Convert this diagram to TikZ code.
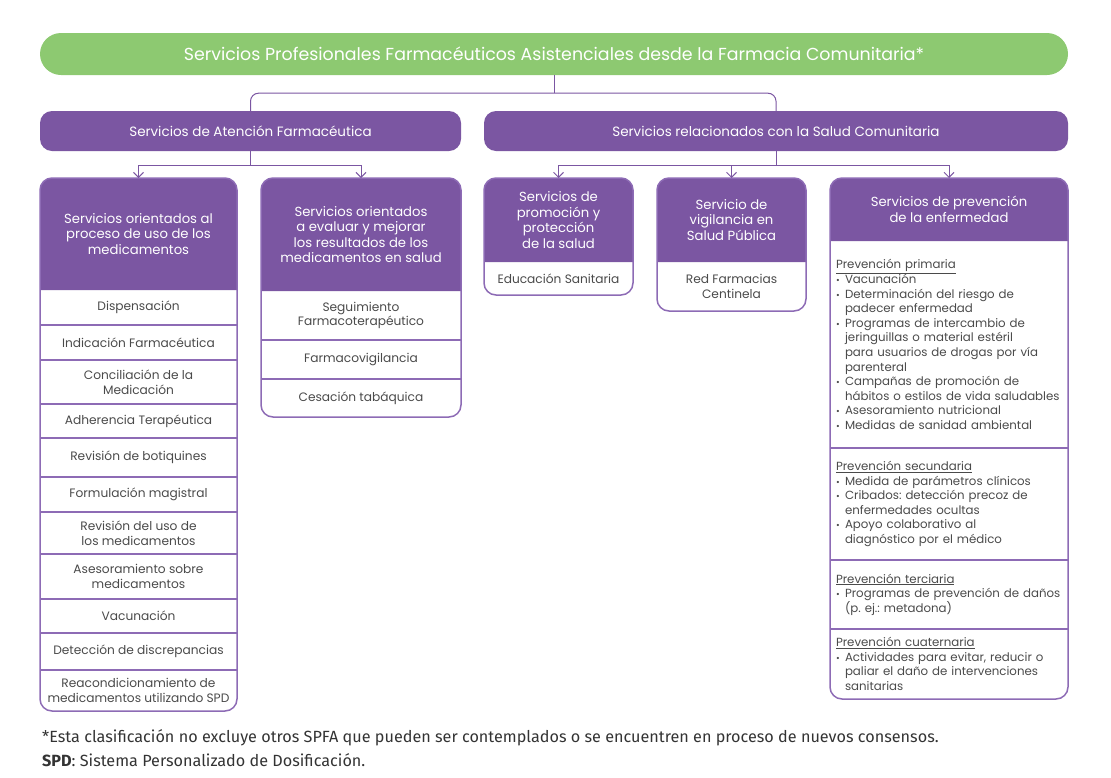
\documentclass[tikz,border=0pt]{standalone}
\usepackage{fontspec}
\setmainfont{Poppins}
\newfontfamily\notefont{Fira Sans}
\usetikzlibrary{arrows.meta,positioning,calc,backgrounds}
\definecolor{spgreen}{HTML}{8DC971}
\definecolor{sppurple}{HTML}{7B56A2}
\definecolor{spline}{HTML}{8D6BB5}
\definecolor{sptext}{HTML}{4A4A4A}
\newcommand\bul[1]{\par\hangindent=9pt\hangafter=1\noindent\makebox[9pt][l]{\small•}#1}
\tikzset{
  banner/.style={fill=spgreen,rounded corners=21pt,minimum width=1028pt,minimum height=42pt,text=white,font=\fontsize{17.4}{20}\selectfont},
  cat/.style={fill=sppurple,rounded corners=12pt,minimum height=40pt,text=white,font=\fontsize{13.5}{16}\selectfont},
  head/.style={text=white,align=center,inner sep=0pt,outer sep=0pt,font=\fontsize{13.2}{15.5}\selectfont},
  item/.style={text=sptext,align=center,inner sep=0pt,outer sep=0pt,font=\fontsize{12.2}{14.8}\selectfont},
  sect/.style={text=sptext,align=left,text width=226pt,inner xsep=6pt,inner ysep=0pt,outer sep=0pt,font=\fontsize{11.8}{14.6}\selectfont\frenchspacing},
  conn/.style={draw=sppurple,line width=1pt},
  frame/.style={draw=spline,line width=1.5pt,rounded corners=12pt},
  sep/.style={draw=spline,line width=1.2pt},
  note/.style={anchor=west,inner sep=0pt,text=black!80,font=\notefont\fontsize{16.2}{19}\selectfont}
}
\newcommand\headfill[1]{\fill[sppurple] (#1.south west) [rounded corners=12pt]-- (#1.north west) -- (#1.north east) [sharp corners]-- (#1.south east) -- cycle;}

\begin{document}
\begin{tikzpicture}[x=1pt,y=-1pt,>={Straight Barb[length=5pt,width=10pt]}]
\useasboundingbox (0,0) rectangle (1111,777);
% top levels
\node[banner] (spfa) at (554,54) {Servicios Profesionales Farmacéuticos Asistenciales desde la Farmacia Comunitaria*};
\node[cat,minimum width=421pt] (sac) at (250.5,131) {Servicios de Atención Farmacéutica};
\node[cat,minimum width=584pt] (src) at (776,131) {Servicios relacionados con la Salud Comunitaria};

% column headers
\node[head,minimum width=197pt,minimum height=112pt] (pa) at (138.5,234) {Servicios orientados al\\proceso de uso de los\\medicamentos};
\node[head,minimum width=200pt,minimum height=113pt] (pb) at (361,234.5) {Servicios orientados\\a evaluar y mejorar\\los resultados de los\\medicamentos en salud};
\node[head,minimum width=149pt,minimum height=84pt] (pc) at (558.5,220) {Servicios de\\promoción y\\protección\\de la salud};
\node[head,minimum width=149pt,minimum height=84pt] (pd) at (731.5,220) {Servicio de\\vigilancia en\\Salud Pública};
\node[head,minimum width=238pt,minimum height=63pt] (pe) at (949,209.5) {Servicios de prevención\\de la enfermedad};

% column A
\node[item,minimum width=197pt,minimum height=35pt,below=0pt of pa] (a1) {Dispensación};
\node[item,minimum width=197pt,minimum height=35pt,below=0pt of a1] (a2) {Indicación Farmacéutica};
\node[item,minimum width=197pt,minimum height=44pt,below=0pt of a2] (a3) {Conciliación de la\\Medicación};
\node[item,minimum width=197pt,minimum height=34pt,below=0pt of a3] (a4) {Adherencia Terapéutica};
\node[item,minimum width=197pt,minimum height=39pt,below=0pt of a4] (a5) {Revisión de botiquines};
\node[item,minimum width=197pt,minimum height=35pt,below=0pt of a5] (a6) {Formulación magistral};
\node[item,minimum width=197pt,minimum height=42pt,below=0pt of a6] (a7) {Revisión del uso de\\los medicamentos};
\node[item,minimum width=197pt,minimum height=45pt,below=0pt of a7] (a8) {Asesoramiento sobre\\medicamentos};
\node[item,minimum width=197pt,minimum height=34pt,below=0pt of a8] (a9) {Vacunación};
\node[item,minimum width=197pt,minimum height=37pt,below=0pt of a9] (a10) {Detección de discrepancias};
\node[item,minimum width=197pt,minimum height=41pt,below=0pt of a10] (a11) {Reacondicionamiento de\\medicamentos utilizando SPD};

% column B
\node[item,minimum width=200pt,minimum height=49pt,below=0pt of pb] (b1) {Seguimiento\\Farmacoterapéutico};
\node[item,minimum width=200pt,minimum height=39pt,below=0pt of b1] (b2) {Farmacovigilancia};
\node[item,minimum width=200pt,minimum height=38pt,below=0pt of b2] (b3) {Cesación tabáquica};

% columns C and D
\node[item,minimum width=149pt,minimum height=33pt,below=0pt of pc] (c1) {Educación Sanitaria};
\node[item,minimum width=149pt,minimum height=49pt,below=0pt of pd] (d1) {Red Farmacias\\Centinela};

% column E
\node[sect,minimum height=207pt,below=0pt of pe] (e1) {\underline{Prevención primaria}\bul{Vacunación}\bul{Determinación del riesgo de\newline padecer enfermedad}\bul{Programas de intercambio de\newline jeringuillas o material estéril\newline para usuarios de drogas por vía\newline parenteral}\bul{Campañas de promoción de\newline hábitos o estilos de vida saludables}\bul{Asesoramiento nutricional}\bul{Medidas de sanidad ambiental}\par};
\node[sect,minimum height=112pt,below=0pt of e1] (e2) {\underline{Prevención secundaria}\bul{Medida de parámetros clínicos}\bul{Cribados: detección precoz de\newline enfermedades ocultas}\bul{Apoyo colaborativo al\newline diagnóstico por el médico}\par};
\node[sect,minimum height=69pt,below=0pt of e2] (e3) {\underline{Prevención terciaria}\bul{Programas de prevención de daños\newline (p. ej.: metadona)}\par};
\node[sect,minimum height=70pt,below=0pt of e3] (e4) {\underline{Prevención cuaternaria}\bul{Actividades para evitar, reducir o\newline paliar el daño de intervenciones\newline sanitarias}\par};

\begin{scope}[on background layer]
\headfill{pa}\headfill{pb}\headfill{pc}\headfill{pd}\headfill{pe}
\end{scope}

% frames and separators
\draw[frame] (pa.north west) rectangle (a11.south east);
\draw[frame] (pb.north west) rectangle (b3.south east);
\draw[frame] (pc.north west) rectangle (c1.south east);
\draw[frame] (pd.north west) rectangle (d1.south east);
\draw[frame] (pe.north west) rectangle (e4.south east);
\foreach \i in {1,...,10} \draw[sep] (a\i.south west) -- (a\i.south east);
\foreach \i in {1,2} \draw[sep] (b\i.south west) -- (b\i.south east);
\foreach \i in {1,2,3} \draw[sep] (e\i.south west) -- (e\i.south east);

% connectors
\draw[conn] (spfa.south) -- ++(0,18) coordinate (j0);
\draw[conn,rounded corners=8pt] (j0) -| (sac.north);
\draw[conn,rounded corners=8pt] (j0) -| (src.north);
\draw[conn] (sac.south) -- ++(0,14) coordinate (j1);
\draw[conn,->] (j1) -| (pa.north);
\draw[conn,->] (j1) -| (pb.north);
\draw[conn] (src.south) -- ++(0,14) coordinate (j2);
\draw[conn,->] (j2) -| (pc.north);
\draw[conn,->] (j2) -| (pd.north);
\draw[conn,->] (j2) -| (pe.north);

% footnotes
\node[note] (fn1) at (42,738) {*Esta clasificación no excluye otros SPFA que pueden ser contemplados o se encuentren en proceso de nuevos consensos.};
\node[note] (fn2) at (42,760) {\textbf{SPD}: Sistema Personalizado de Dosificación.};
\end{tikzpicture}
\end{document}
